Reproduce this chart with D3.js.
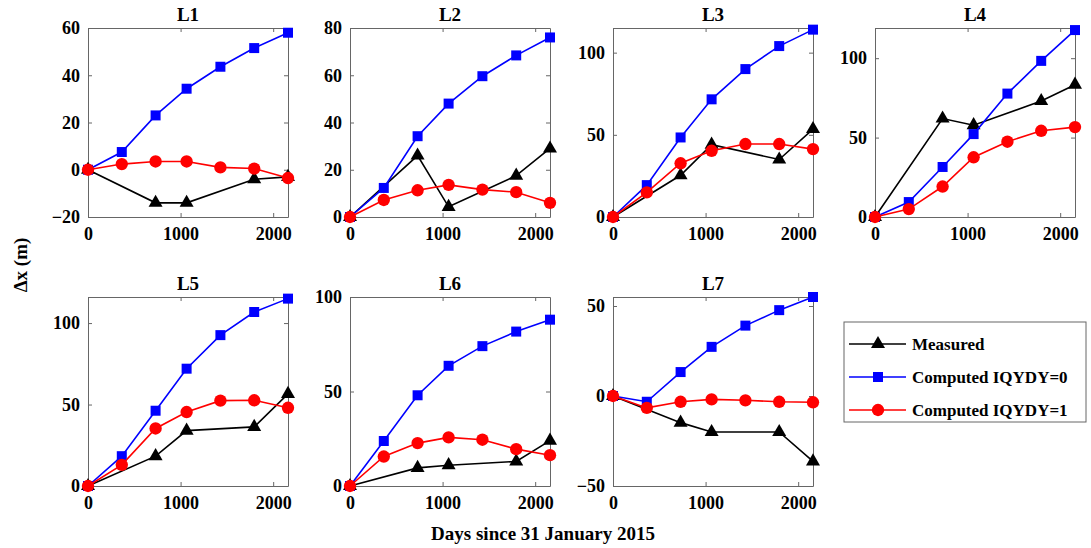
<!DOCTYPE html>
<html>
<head>
<meta charset="utf-8">
<script src="https://cdn.jsdelivr.net/npm/d3@7"></script>
<style>
  body { margin: 0; background: #fff; }
  svg text { font-family: "Liberation Serif", "Times New Roman", serif !important; font-weight: bold; }
</style>
</head>
<body>
<div id="chart"></div>
<script>
// days since 31 Jan 2015 for the model output and for the surveys
var days = [0, 365, 730, 1065, 1430, 1795, 2160];
var measuredDays = [0, 730, 1065, 1795, 2160];

var panelNames = ["L1", "L2", "L3", "L4", "L5", "L6", "L7"];
var yDomains = [[-20, 60], [0, 80], [0, 115], [0, 119], [0, 116], [0, 100], [-50, 55]];
var yTicks = [[-20, 0, 20, 40, 60], [0, 20, 40, 60, 80], [0, 50, 100], [0, 50, 100], [0, 50, 100], [0, 50, 100], [-50, 0, 50]];
var xTicks = [0, 1000, 2000];

// measured (black triangles)
var measured = [
  [0, -14, -14, -4, -3],
  [0, 26, 4.3, 17.5, 29],
  [0, 25.4, 44, 35, 53.5],
  [0, 62, 57.8, 73, 83.3],
  [0, 18.3, 34, 36.3, 56.5],
  [0, 9.6, 11, 13, 24],
  [0, -14.8, -20, -20, -36.3]
];
// computed IQYDY=0 (blue squares)
var computed0 = [
  [0, 7.5, 23, 34.3, 43.6, 51.5, 58],
  [0, 12.3, 34.2, 48, 59.6, 68.4, 76],
  [0, 19.4, 48.4, 71.6, 90, 104, 114],
  [0, 9.4, 31.5, 52.2, 77.7, 98.3, 117.7],
  [0, 18.3, 46.2, 72, 92.6, 106.8, 115],
  [0, 23.8, 48, 63.6, 74, 81.7, 88],
  [0, -3.2, 13.3, 27.3, 39.1, 47.7, 55]
];
// computed IQYDY=1 (red circles)
var computed1 = [
  [0, 2.4, 3.5, 3.5, 1, 0.5, -3.5],
  [0, 7.2, 11.3, 13.6, 11.6, 10.5, 6],
  [0, 15, 32.7, 40.3, 44.4, 44.4, 41.3],
  [0, 5, 19.2, 37.6, 47.4, 54.3, 56.6],
  [0, 13, 35.3, 45.4, 52.4, 52.6, 48],
  [0, 15.6, 22.7, 25.7, 24.5, 19.5, 16.3],
  [0, -6.6, -3.2, -1.9, -2.4, -3.2, -3.5]
];

var seriesNames = ["Measured", "Computed IQYDY=0", "Computed IQYDY=1"];
var seriesColors = ["#000000", "#0000ff", "#ff0000"];
var seriesSymbols = [d3.symbolTriangle, d3.symbolSquare, d3.symbolCircle];
var symbolSizes = [85, 100, 120];

var W = 1091, H = 548;
var colLeft = [88, 350, 613, 875];
var rowTop = [28, 297];
var pw = 200, ph = 189;
var fmt = d3.format("d");

var svg = d3.select("#chart").append("svg")
  .attr("width", W)
  .attr("height", H);

var x = d3.scaleLinear().domain([0, 2160]).range([0, pw]);

panelNames.forEach(function(name, i) {
  var g = svg.append("g")
    .attr("transform", "translate(" + colLeft[i % 4] + "," + rowTop[Math.floor(i / 4)] + ")");
  var y = d3.scaleLinear().domain(yDomains[i]).range([ph, 0]);

  // box with inward ticks on every side
  var axisStyle = function(sel) {
    sel.attr("font-family", null);
    sel.select(".domain").attr("stroke", "#666").attr("stroke-width", 1);
    sel.selectAll(".tick line").attr("stroke", "#666");
    sel.selectAll("text").attr("fill", "#000").style("font-size", "18px");
  };
  g.append("g").attr("transform", "translate(0," + ph + ")")
    .call(d3.axisBottom(x).tickValues(xTicks).tickFormat(fmt).tickSizeInner(-4).tickSizeOuter(0).tickPadding(10))
    .call(axisStyle);
  g.append("g")
    .call(d3.axisLeft(y).tickValues(yTicks[i]).tickFormat(fmt).tickSizeInner(-4).tickSizeOuter(0).tickPadding(8))
    .call(axisStyle);
  g.append("g")
    .call(d3.axisTop(x).tickValues(xTicks).tickSizeInner(-4).tickSizeOuter(0).tickFormat(""))
    .call(axisStyle);
  g.append("g").attr("transform", "translate(" + pw + ",0)")
    .call(d3.axisRight(y).tickValues(yTicks[i]).tickSizeInner(-4).tickSizeOuter(0).tickFormat(""))
    .call(axisStyle);

  g.append("text")
    .attr("x", pw / 2).attr("y", -7)
    .attr("text-anchor", "middle")
    .style("font-size", "19px")
    .text(name);

  var sets = [
    measuredDays.map(function(d, k) { return [d, measured[i][k]]; }),
    days.map(function(d, k) { return [d, computed0[i][k]]; }),
    days.map(function(d, k) { return [d, computed1[i][k]]; })
  ];
  var line = d3.line().x(function(d) { return x(d[0]); }).y(function(d) { return y(d[1]); });

  sets.forEach(function(pts, s) {
    g.append("path")
      .datum(pts)
      .attr("d", line)
      .attr("fill", "none")
      .attr("stroke", seriesColors[s])
      .attr("stroke-width", 1.6);
    g.selectAll(".m" + s).data(pts).enter().append("path")
      .attr("class", "m" + s)
      .attr("transform", function(d) { return "translate(" + x(d[0]) + "," + y(d[1]) + ")"; })
      .attr("d", d3.symbol().type(seriesSymbols[s]).size(symbolSizes[s]))
      .attr("fill", seriesColors[s]);
  });
});

// axis titles
svg.append("text")
  .attr("transform", "translate(27,265) rotate(-90)")
  .attr("text-anchor", "middle")
  .style("font-size", "19px")
  .text("\u0394x (m)");

svg.append("text")
  .attr("x", 543).attr("y", 540)
  .attr("text-anchor", "middle")
  .style("font-size", "19px")
  .text("Days since 31 January 2015");

// legend
var leg = svg.append("g").attr("transform", "translate(844,322)");
leg.append("rect")
  .attr("width", 242).attr("height", 100)
  .attr("fill", "#fff").attr("stroke", "#666");
seriesNames.forEach(function(n, s) {
  var yy = 22 + s * 33;
  leg.append("line")
    .attr("x1", 5).attr("x2", 62).attr("y1", yy).attr("y2", yy)
    .attr("stroke", seriesColors[s]).attr("stroke-width", 1.6);
  leg.append("path")
    .attr("transform", "translate(34," + yy + ")")
    .attr("d", d3.symbol().type(seriesSymbols[s]).size(symbolSizes[s]))
    .attr("fill", seriesColors[s]);
  leg.append("text")
    .attr("x", 68).attr("y", yy + 6)
    .style("font-size", "17px")
    .text(n);
});
</script>
</body>
</html>
